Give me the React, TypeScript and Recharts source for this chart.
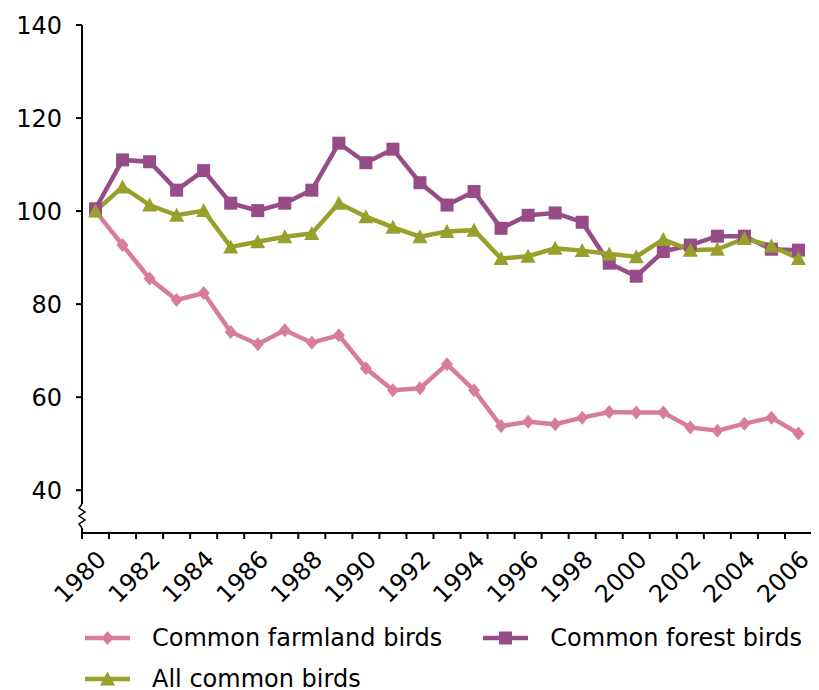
import { LineChart, Line, XAxis, YAxis, Legend } from 'recharts';

const years = [
  1980, 1981, 1982, 1983, 1984, 1985, 1986, 1987, 1988, 1989, 1990, 1991, 1992, 1993,
  1994, 1995, 1996, 1997, 1998, 1999, 2000, 2001, 2002, 2003, 2004, 2005, 2006,
];
const farmland = [
  100, 92.7, 85.5, 80.9, 82.4, 74.0, 71.4, 74.4, 71.7, 73.3, 66.2, 61.5, 61.9, 67.1,
  61.5, 53.8, 54.7, 54.2, 55.6, 56.8, 56.7, 56.7, 53.5, 52.8, 54.3, 55.6, 52.2,
];
const forest = [
  100.5, 111.0, 110.6, 104.5, 108.7, 101.7, 100.1, 101.7, 104.5, 114.6, 110.4, 113.3, 106.1, 101.3,
  104.2, 96.3, 99.1, 99.6, 97.6, 88.8, 86.0, 91.3, 92.7, 94.6, 94.6, 91.8, 91.6,
];
const allBirds = [
  100, 105.2, 101.3, 99.1, 100.1, 92.3, 93.4, 94.5, 95.2, 101.7, 98.8, 96.5, 94.5, 95.6,
  95.9, 89.8, 90.3, 92.0, 91.5, 90.8, 90.2, 93.9, 91.6, 91.8, 94.1, 92.5, 89.8,
];
const yTicks = [40, 60, 80, 100, 120, 140];
const labelYears = years.filter((y) => y % 2 === 0);
const boundaryTicks = [...years.map((y) => y - 0.5), years[years.length - 1] + 0.5];

const data = years.map((year, i) => ({
  year,
  farmland: farmland[i],
  forest: forest[i],
  all: allBirds[i],
}));

const PINK = '#d87c9f';
const PURPLE = '#964c86';
const GREEN = '#97a02b';
const FONT = '"DejaVu Sans", Verdana, sans-serif';

const Diamond = ({ cx, cy, fill }: any) => (
  <path d={`M${cx},${cy - 7}L${cx + 6},${cy}L${cx},${cy + 7}L${cx - 6},${cy}Z`} fill={fill} />
);
const Square = ({ cx, cy, fill }: any) => (
  <rect x={cx - 6.5} y={cy - 6.5} width={13} height={13} fill={fill} />
);
const Triangle = ({ cx, cy, fill }: any) => (
  <path d={`M${cx},${cy - 7.5}L${cx + 7.5},${cy + 6.5}L${cx - 7.5},${cy + 6.5}Z`} fill={fill} />
);

const series = [
  { key: 'farmland', name: 'Common farmland birds', color: PINK, Shape: Diamond },
  { key: 'forest', name: 'Common forest birds', color: PURPLE, Shape: Square },
  { key: 'all', name: 'All common birds', color: GREEN, Shape: Triangle },
];

function LegendItem({ s, width }: any) {
  const { Shape } = s;
  return (
    <div style={{ display: 'flex', alignItems: 'center', width, height: 32 }}>
      <svg width={67} height={20} style={{ flex: 'none' }}>
        <line x1={0} y1={10} x2={45} y2={10} stroke={s.color} strokeWidth={4.5} />
        <Shape cx={22.5} cy={10} fill={s.color} />
      </svg>
      <span style={{ fontFamily: FONT, fontSize: 24, color: '#000', whiteSpace: 'nowrap', lineHeight: '32px' }}>
        {s.name}
      </span>
    </div>
  );
}

function BirdLegend() {
  return (
    <div style={{ height: 69, paddingLeft: 63, paddingTop: 1, boxSizing: 'border-box' }}>
      <div style={{ display: 'flex' }}>
        <LegendItem s={series[0]} width={400} />
        <LegendItem s={series[1]} width={330} />
      </div>
      <div style={{ display: 'flex', marginTop: 9 }}>
        <LegendItem s={series[2]} width={400} />
      </div>
    </div>
  );
}

export default function App() {
  return (
    <div style={{ position: 'relative', width: 811, height: 682 }}>
      <LineChart width={811} height={682} data={data} margin={{ top: 17, right: 7, bottom: 0, left: 14 }}>
        <XAxis
          xAxisId="grid"
          dataKey="year"
          type="number"
          domain={[1979.5, 2006.5]}
          ticks={boundaryTicks}
          tickFormatter={() => ''}
          interval={0}
          height={8}
          stroke="#000"
          strokeWidth={2}
          tickSize={6}
        />
        <XAxis
          xAxisId="labels"
          dataKey="year"
          type="number"
          domain={[1979.5, 2006.5]}
          ticks={labelYears}
          interval={0}
          height={80}
          axisLine={false}
          tickLine={false}
          angle={-45}
          textAnchor="end"
          tickMargin={2}
          tick={{ fill: '#000', fontSize: 24, fontFamily: FONT }}
        />
        <YAxis
          type="number"
          domain={[30.8, 140]}
          ticks={yTicks}
          interval={0}
          width={60}
          stroke="#000"
          strokeWidth={2}
          tickSize={6}
          tickMargin={14}
          tick={{ fill: '#000', fontSize: 24, fontFamily: FONT }}
          allowDataOverflow
        />
        <Legend verticalAlign="bottom" content={<BirdLegend />} />
        {series.map((s) => (
          <Line
            key={s.key}
            xAxisId="grid"
            type="linear"
            dataKey={s.key}
            name={s.name}
            stroke={s.color}
            strokeWidth={4.5}
            dot={(p: any) => <s.Shape key={`${s.key}-${p.index}`} cx={p.cx} cy={p.cy} fill={s.color} />}
            isAnimationActive={false}
          />
        ))}
      </LineChart>
      <svg
        width={20}
        height={30}
        style={{ position: 'absolute', left: 63.7, top: 494 }}
      >
        <rect x={6} y={2} width={8} height={24} fill="#fff" />
        <path d="M10,2 L7,6 L13,10 L7,14 L13,18 L7,22 L10,26" fill="none" stroke="#000" strokeWidth={1.5} />
      </svg>
    </div>
  );
}
